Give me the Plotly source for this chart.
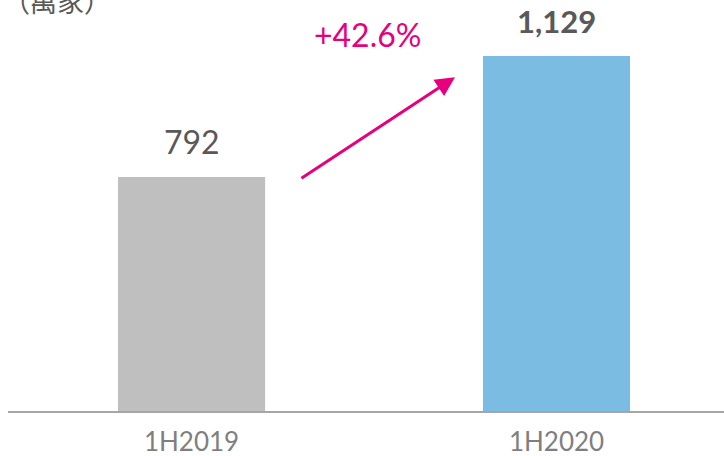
import plotly.graph_objects as go

categories = ["1H2019", "1H2020"]
values = [792, 1129]
value_labels = ["792", "<b>1,129</b>"]
colors = ["#BFBFBF", "#7BBCE2"]
growth_label = "+42.6%"
unit_label = "（萬家）"

FONT = "Lato, 'Noto Sans', sans-serif"
PINK = "#E6007E"

fig = go.Figure()
fig.add_trace(go.Bar(
    x=[0, 1], y=values, width=0.403,
    marker=dict(color=colors, line=dict(width=0)),
    cliponaxis=False, hoverinfo="skip",
))

# value labels above bars
label_sizes = [32, 31]
for i, (v, lab) in enumerate(zip(values, value_labels)):
    fig.add_annotation(
        x=i, y=v, xref="x", yref="y", text=lab, showarrow=False,
        yanchor="middle", yshift=35,
        font=dict(size=label_sizes[i], color="#595959", family=FONT),
    )

fig.update_layout(
    width=724, height=456,
    margin=dict(l=8, r=0, t=0, b=45),
    paper_bgcolor="white", plot_bgcolor="white",
    showlegend=False,
    xaxis=dict(
        range=[-0.503, 1.459], tickmode="array", tickvals=[0, 1], ticktext=categories,
        showgrid=False, zeroline=False, showline=True, linecolor="#A6A6A6", linewidth=2,
        ticks="", ticklabelstandoff=7, automargin=False,
        tickfont=dict(size=26, color="#7F7F7F", family=FONT),
    ),
    yaxis=dict(range=[140, 1285], visible=False, showgrid=False, zeroline=False,
               automargin=False),
)

# growth arrow from gray bar top region to blue bar top region
fig.add_annotation(
    x=0.722, y=1070, xref="x", yref="y",
    ax=0.297, ay=786, axref="x", ayref="y",
    showarrow=True, arrowhead=2, arrowsize=1.3, arrowwidth=3,
    arrowcolor=PINK, text="",
)
fig.add_annotation(
    x=0.482, y=1190, xref="x", yref="y",
    text=growth_label, showarrow=False, yanchor="middle",
    font=dict(size=32, color=PINK, family=FONT),
)
fig.add_annotation(
    x=0, y=1.0, xref="paper", yref="paper",
    xanchor="left", yanchor="middle", xshift=-7, yshift=0,
    text=unit_label, showarrow=False,
    font=dict(size=27, color="#595959", family="'Noto Sans CJK TC', sans-serif"),
)

fig.write_html("out.html", config={"displayModeBar": False},
               post_script="document.body.style.margin='0';")
